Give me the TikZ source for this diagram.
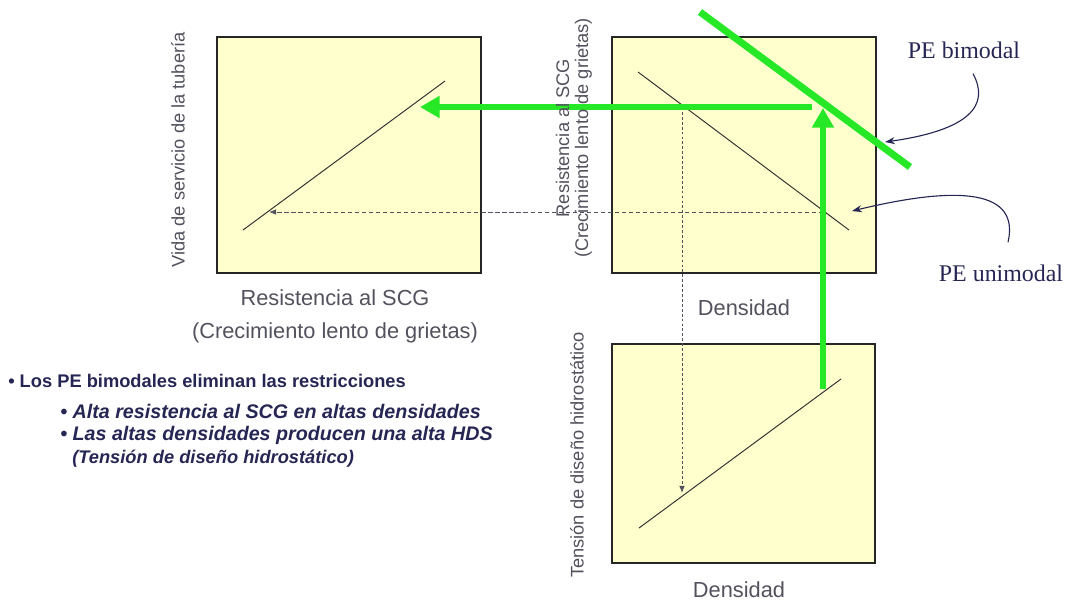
\documentclass[tikz,border=0pt]{standalone}
\usepackage{fontspec}
\setmainfont{Liberation Sans}
\newfontfamily\romanpe{Liberation Serif}
\usetikzlibrary{arrows.meta}
\definecolor{amarillo}{RGB}{255,255,206}
\definecolor{verdepe}{RGB}{38,232,38}
\definecolor{azulpe}{RGB}{38,38,84}
\definecolor{grispe}{RGB}{82,82,94}
\newcommand{\ejes}{\fontsize{13}{13.5}\selectfont}
\newcommand{\titulo}{\fontsize{15.5}{23.5}\selectfont}
\newcommand{\lista}{\fontsize{13}{15}\selectfont\bfseries}

\begin{document}
\begin{tikzpicture}[x=0.025cm,y=-0.025cm,
    panel/.style={draw=black!85,line width=1pt,fill=amarillo},
    curva/.style={black!80,line width=0.7pt},
    grueso verde/.style={verdepe,line width=4.3pt},
    flecha verde/.style={grueso verde,-{Triangle[length=14pt,width=15pt]}},
    guia/.style={grispe,line width=0.6pt,dash pattern=on 3pt off 2pt,-{Latex[length=5pt,width=4pt]}},
    eje/.style={text=grispe,font=\ejes,inner sep=0pt},
    etiqueta/.style={text=azulpe,font=\romanpe\fontsize{17}{17}\selectfont,inner sep=0pt},
    nota/.style={azulpe,line width=0.8pt,-{Stealth[length=7pt,width=5pt]}},
    punto/.style={text=azulpe,font=\lista,anchor=west,inner sep=0pt},
    subpunto/.style={punto,font=\lista\itshape\fontsize{14}{16}\selectfont}]

\useasboundingbox (0,0) rectangle (1065,601);

% paneles
\draw[panel] (217,37) rectangle (481,273);
\draw[panel] (612,37) rectangle (876,273);
\draw[panel] (612,344) rectangle (875,563);

% rectas de cada panel
\coordinate (a1) at (243,230);
\coordinate (a2) at (445,81);
\coordinate (b1) at (638,72);
\coordinate (b2) at (849,230);
\coordinate (c1) at (639,528);
\coordinate (c2) at (841,379);
\draw[curva] (a1) -- (a2);
\draw[curva] (b1) -- (b2);
\draw[curva] (c1) -- (c2);

% camino del PE unimodal
\coordinate (uB) at (823,212);
\coordinate (uA) at (269,212);
\coordinate (dB) at (682,107);
\coordinate (dC) at (682,493);
\draw[guia] (uB) -- (uA);
\draw[guia,dash pattern=on 2pt off 1.5pt] (dB) -- (dC);

% PE bimodal
\coordinate (m1) at (700,12);
\coordinate (m2) at (910,167);
\coordinate (hC) at (823,389);
\coordinate (hB) at (823,108);
\coordinate (sB) at (812,107);
\coordinate (sA) at (420,107);
\draw[grueso verde,line width=5pt] (m1) -- (m2);
\draw[flecha verde] (hC) -- (hB);
\draw[flecha verde] (sB) -- (sA);

% ejes
\node[eje,rotate=90] (vida) at (178,150) {Vida de servicio de la tubería};
\node[eje,rotate=90,align=center] (resB) at (574,138) {Resistencia al SCG\\(Crecimiento lento de grietas)};
\node[eje,rotate=90] (tens) at (577,455) {Tensión de diseño hidrostático};
\node[eje,font=\titulo,align=center] (resA) at (335,316) {Resistencia al SCG\\(Crecimiento lento de grietas)};
\node[eje,font=\titulo] (densB) at (744,308) {Densidad};
\node[eje,font=\titulo] (densC) at (739,590) {Densidad};

% rotulos
\node[etiqueta] (bim) at (964,50) {PE bimodal};
\node[etiqueta] (unim) at (1001,273) {PE unimodal};
\coordinate (bimtip) at (885,142);
\coordinate (unimtip) at (852,211);
\draw[nota] (bim.south -| 973,0) ++(0,15) .. controls (990,105) and (970,130) .. (bimtip);
\draw[nota] (unim.north -| 1008,0) ++(0,-22) .. controls (1020,190) and (960,185) .. (unimtip);

% texto
\node[punto] (p0) at (8,381) {•\ Los PE bimodales eliminan las restricciones};
\node[subpunto] (p1) at (60,411) {•\ Alta resistencia al SCG en altas densidades};
\node[subpunto] (p2) at (60,435) {•\ Las altas densidades producen una alta HDS};
\node[subpunto,font=\lista\itshape\fontsize{13}{15}\selectfont] (p3) at (72,459) {(Tensión de diseño hidrostático)};
\end{tikzpicture}
\end{document}
